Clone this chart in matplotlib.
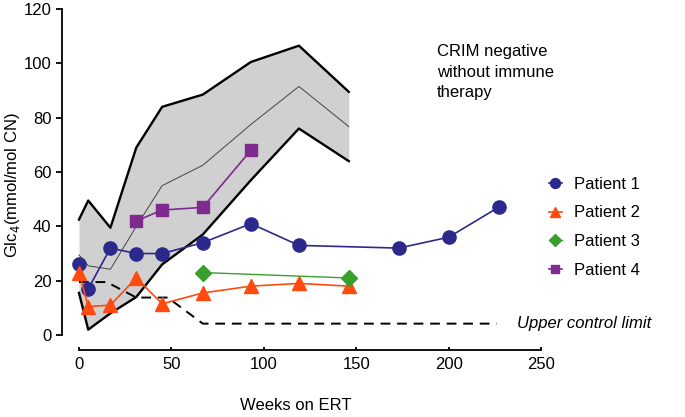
import matplotlib
matplotlib.use("Agg")
import matplotlib.pyplot as plt

plt.rcParams['font.family'] = ['Liberation Sans', 'DejaVu Sans']

# reference band (CRIM negative without immune therapy)
band_weeks = [0, 5, 17, 31, 45, 67, 93, 119, 146]
band_upper = [42.5, 49.5, 39.5, 69, 84, 88.5, 100.5, 106.5, 89.5]
band_mean = [29.5, 25.5, 24.2, 40, 55, 62.5, 77.5, 91.5, 76.7]
band_lower = [15.5, 2, 8, 14, 26, 37, 57, 76, 64]

# upper control limit
ucl_weeks = [0, 15, 31, 48, 67, 226]
ucl_values = [19.5, 19.5, 13.8, 13.8, 4.2, 4.2]

# patients
p1_weeks = [0, 5, 17, 31, 45, 67, 93, 119, 173, 200, 227]
p1_values = [26, 17, 32, 30, 30, 34, 41, 33, 32, 36, 47]
p2_weeks = [0, 5, 17, 31, 45, 67, 93, 119, 146]
p2_values = [23, 10.5, 11, 21, 11.5, 15.5, 18, 19, 18]
p3_weeks = [67, 146]
p3_values = [23, 21]
p4_weeks = [31, 45, 67, 93]
p4_values = [42, 46, 47, 68]

FS = 12

fig = plt.figure(figsize=(6.85, 4.17), dpi=100)
ax = fig.add_axes([0.0905, 0.1607, 0.6993, 0.8177])

ax.fill_between(band_weeks, band_lower, band_upper, color="#d0d0d0", lw=0)
ax.plot(band_weeks, band_upper, color="black", lw=1.7)
ax.plot(band_weeks, band_lower, color="black", lw=1.7)
ax.plot(band_weeks, band_mean, color="#444444", lw=0.7)

ax.plot(ucl_weeks, ucl_values, color="black", lw=1.4, dashes=(5, 3.5))
ax.text(237, 4.2, "Upper control limit", style="italic", fontsize=FS,
        va="center", ha="left", clip_on=False)

ax.plot(p1_weeks, p1_values, color="#2b2a8c", marker="o", ms=9.5, lw=1.2,
        label="Patient 1", clip_on=False)
ax.plot(p2_weeks, p2_values, color="#ff4a10", marker="^", ms=9.5, lw=1.2,
        label="Patient 2", clip_on=False)
ax.plot(p3_weeks, p3_values, color="#3aa02d", marker="D", ms=8, lw=1.0,
        label="Patient 3", clip_on=False)
ax.plot(p4_weeks, p4_values, color="#7e2a8e", marker="s", ms=8.5, lw=1.2,
        label="Patient 4", clip_on=False)

ax.text(193.5, 107, "CRIM negative\nwithout immune\ntherapy", fontsize=FS,
        va="top", ha="left", linespacing=1.45)

ax.legend(loc="upper left", bbox_to_anchor=(0.985, 0.552), frameon=False,
          fontsize=FS, handlelength=0.8, handletextpad=0.7,
          labelspacing=0.82, markerscale=0.75)

ax.set_xlim(-9.2, 250)
ax.set_ylim(-5.5, 120)
ax.spines["top"].set_visible(False)
ax.spines["right"].set_visible(False)
ax.spines["left"].set_bounds(0, 120)
ax.spines["bottom"].set_bounds(0, 250)
ax.spines["left"].set_linewidth(1.3)
ax.spines["bottom"].set_linewidth(1.3)
ax.set_xticks([0, 50, 100, 150, 200, 250])
ax.set_yticks([0, 20, 40, 60, 80, 100, 120])
ax.tick_params(axis="y", direction="out", length=4, width=1.3, labelsize=FS)
ax.tick_params(axis="x", direction="in", length=2.5, width=1.3, labelsize=FS, pad=5)

fig.text(296 / 685, 1 - 405 / 417, "Weeks on ERT", fontsize=FS,
         ha="center", va="center")
fig.text(13 / 685, 1 - 185 / 417, "Glc$_4$(mmol/mol CN)", fontsize=FS,
         ha="center", va="center", rotation=90)

fig.savefig("out.png", dpi=100)
